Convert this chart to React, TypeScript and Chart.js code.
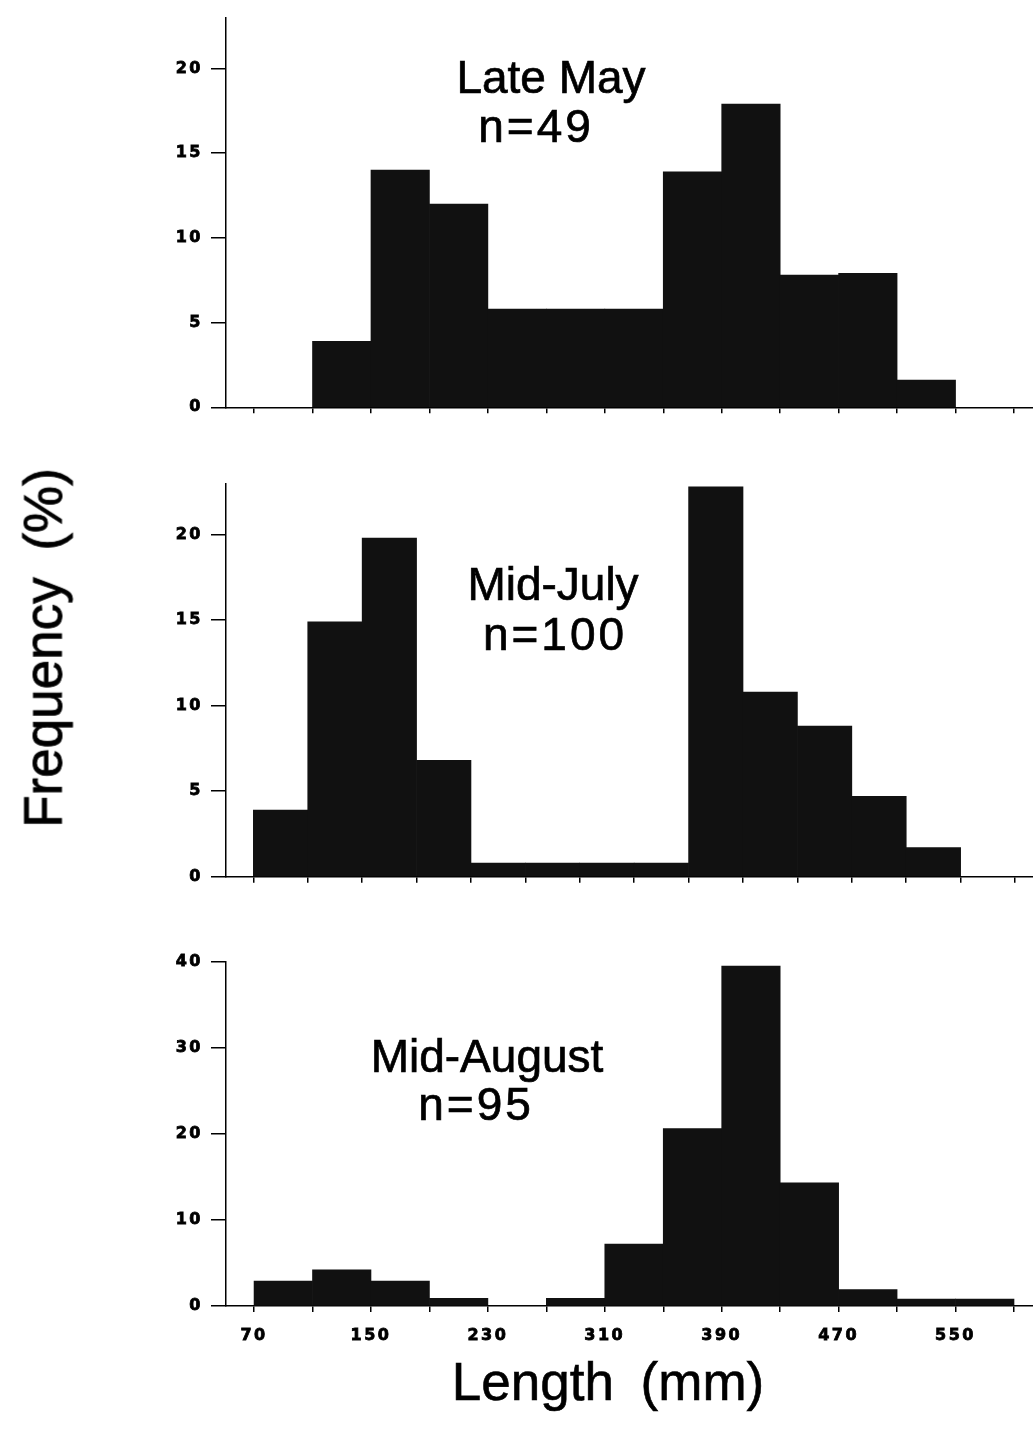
import React, { useEffect, useRef } from 'react';
import { Chart, registerables } from 'chart.js';

Chart.register(...registerables);

// ---- Data (bin lower edges in mm, frequency in %) ----
const lateMayBins = [110, 150, 190, 230, 270, 310, 350, 390, 430, 470, 510];
const lateMayFreq = [3.9, 14.0, 12.0, 5.8, 5.8, 5.8, 13.9, 17.9, 7.8, 7.9, 1.6];

const midJulyBins = [70, 110, 150, 190, 230, 270, 310, 350, 390, 430, 470, 510, 550];
const midJulyFreq = [3.9, 14.9, 19.8, 6.8, 0.8, 0.8, 0.8, 0.8, 22.8, 10.8, 8.8, 4.7, 1.7];

const midAugBins = [70, 110, 150, 190, 230, 270, 310, 350, 390, 430, 470, 510, 550];
const midAugFreq = [2.9, 4.2, 2.9, 0.9, 0, 0.9, 7.2, 20.6, 39.5, 14.3, 1.9, 0.8, 0.8];

const binWidth = 40;
const xTicksStandard = [70, 110, 150, 190, 230, 270, 310, 350, 390, 430, 470, 510, 550, 590];
const xTicksJuly = [70, 110, 150, 190, 230, 270, 310, 350, 390, 430, 470, 510, 550, 590, 630];
const xLabelled = [70, 150, 230, 310, 390, 470, 550];

const yTicksSmall = [0, 5, 10, 15, 20];
const yTicksLarge = [0, 10, 20, 30, 40];

const titles = [
  { name: 'Late May', n: 'n=49' },
  { name: 'Mid-July', n: 'n=100' },
  { name: 'Mid-August', n: 'n=95' },
];

const BAR_COLOR = '#111111';
const TICK_FONT = { family: 'DejaVu Sans', size: 16, weight: 'bold' as const };

type PanelCfg = {
  bins: number[];
  freq: number[];
  xTicks: number[];
  xMin: number;
  xMax: number;
  yMax: number;
  yStep: number;
  yTicks: number[];
  showXLabels: boolean;
  height: number;
  padTop: number;
  xAxisHeight: number;
};

const letterSpacingPlugin = {
  id: 'letterSpacing',
  beforeDraw(chart: any) {
    chart.ctx.letterSpacing = '2.5px';
  },
};

function Panel({ cfg, top }: { cfg: PanelCfg; top: number }) {
  const ref = useRef<HTMLCanvasElement | null>(null);
  useEffect(() => {
    if (!ref.current) return;
    const chart = new Chart(ref.current, {
      type: 'bar',
      data: {
        datasets: [
          {
            data: cfg.bins.map((b, i) => ({ x: b + binWidth / 2, y: cfg.freq[i] })),
            backgroundColor: BAR_COLOR,
            borderWidth: 0,
            barPercentage: 1,
            categoryPercentage: 1,
          },
        ],
      },
      options: {
        animation: false,
        responsive: false,
        maintainAspectRatio: false,
        layout: { padding: { top: cfg.padTop, left: 0, right: 0, bottom: 0 } },
        plugins: { legend: { display: false }, tooltip: { enabled: false } },
        scales: {
          x: {
            type: 'linear',
            min: cfg.xMin,
            max: cfg.xMax,
            offset: false,
            grid: {
              offset: false,
              drawOnChartArea: false,
              drawTicks: true,
              tickLength: 6,
              color: '#000',
              lineWidth: 1.5,
            },
            border: { display: true, color: '#000', width: 1.5 },
            afterBuildTicks: (s: any) => {
              s.ticks = cfg.xTicks.map((v) => ({ value: v }));
            },
            afterFit: (s: any) => {
              s.height = cfg.xAxisHeight;
            },
            ticks: {
              autoSkip: false,
              maxRotation: 0,
              minRotation: 0,
              display: cfg.showXLabels,
              padding: 14,
              color: '#000',
              textStrokeColor: '#000',
              textStrokeWidth: 0.8,
              font: TICK_FONT,
              callback: (v: any) => (xLabelled.includes(Number(v)) ? String(v) : ''),
            },
          },
          y: {
            type: 'linear',
            min: 0,
            max: cfg.yMax,
            grid: {
              drawOnChartArea: false,
              drawTicks: true,
              tickLength: 15,
              color: '#000',
              lineWidth: 1.5,
            },
            border: { display: true, color: '#000', width: 1.5 },
            afterBuildTicks: (s: any) => {
              s.ticks = cfg.yTicks.map((v) => ({ value: v }));
            },
            afterFit: (s: any) => {
              s.width = 226;
            },
            ticks: {
              padding: 8,
              color: '#000',
              textStrokeColor: '#000',
              textStrokeWidth: 0.8,
              font: TICK_FONT,
              includeBounds: false,
              stepSize: cfg.yStep,
            },
          },
        },
      } as any,
      plugins: [letterSpacingPlugin],
    });
    return () => chart.destroy();
  }, [cfg]);
  return (
    <canvas
      ref={ref}
      width={1033}
      height={cfg.height}
      style={{ position: 'absolute', left: 0, top, width: 1033, height: cfg.height }}
    />
  );
}

const panels: { cfg: PanelCfg; top: number }[] = [
  {
    top: 0,
    cfg: {
      bins: lateMayBins,
      freq: lateMayFreq,
      xTicks: xTicksStandard,
      xMin: 50.8,
      xMax: 603,
      yMax: 23,
      yStep: 5,
      yTicks: yTicksSmall,
      showXLabels: false,
      height: 440,
      padTop: 15,
      xAxisHeight: 440 - 407.3,
    },
  },
  {
    top: 450,
    cfg: {
      bins: midJulyBins,
      freq: midJulyFreq,
      xTicks: xTicksJuly,
      xMin: 49.9,
      xMax: 643.2,
      yMax: 23,
      yStep: 5,
      yTicks: yTicksSmall,
      showXLabels: false,
      height: 450,
      padTop: 33.3,
      xAxisHeight: 450 - 426.7,
    },
  },
  {
    top: 930,
    cfg: {
      bins: midAugBins,
      freq: midAugFreq,
      xTicks: xTicksStandard,
      xMin: 50.8,
      xMax: 603,
      yMax: 40,
      yStep: 10,
      yTicks: yTicksLarge,
      showXLabels: true,
      height: 507,
      padTop: 31.7,
      xAxisHeight: 507 - 376,
    },
  },
];

const labelStyle: React.CSSProperties = {
  position: 'absolute',
  fontFamily: '"Liberation Sans", Arial, sans-serif',
  fontSize: 46,
  lineHeight: '46px',
  color: '#000',
  whiteSpace: 'nowrap',
  transform: 'translateX(-50%)',
  WebkitTextStroke: '0.7px #000',
};

const titlePos = [
  { name: { x: 551, y: 54 }, n: { x: 536, y: 103 } },
  { name: { x: 553, y: 561 }, n: { x: 555, y: 611 } },
  { name: { x: 487, y: 1033 }, n: { x: 476, y: 1081 } },
];

export default function App() {
  return (
    <div
      style={{
        position: 'absolute',
        left: 0,
        top: 0,
        width: 1033,
        height: 1437,
        background: '#fff',
        overflow: 'hidden',
      }}
    >
      {panels.map((p, i) => (
        <Panel key={i} cfg={p.cfg} top={p.top} />
      ))}
      {titles.map((t, i) => (
        <React.Fragment key={i}>
          <div style={{ ...labelStyle, left: titlePos[i].name.x, top: titlePos[i].name.y }}>{t.name}</div>
          <div style={{ ...labelStyle, left: titlePos[i].n.x, top: titlePos[i].n.y, letterSpacing: '3px' }}>{t.n}</div>
        </React.Fragment>
      ))}
      <div
        style={{
          position: 'absolute',
          left: 43,
          top: 648,
          transform: 'translate(-50%, -50%) rotate(-90deg)',
          fontFamily: '"Liberation Sans", Arial, sans-serif',
          fontSize: 53,
          lineHeight: '53px',
          whiteSpace: 'nowrap',
          wordSpacing: '12px',
          color: '#000',
          WebkitTextStroke: '0.8px #000',
        }}
      >
        Frequency (%)
      </div>
      <div
        style={{
          position: 'absolute',
          left: 608,
          top: 1355,
          transform: 'translateX(-50%)',
          fontFamily: '"Liberation Sans", Arial, sans-serif',
          fontSize: 53,
          lineHeight: '53px',
          whiteSpace: 'nowrap',
          wordSpacing: '12px',
          color: '#000',
          WebkitTextStroke: '0.6px #000',
        }}
      >
        Length (mm)
      </div>
    </div>
  );
}
